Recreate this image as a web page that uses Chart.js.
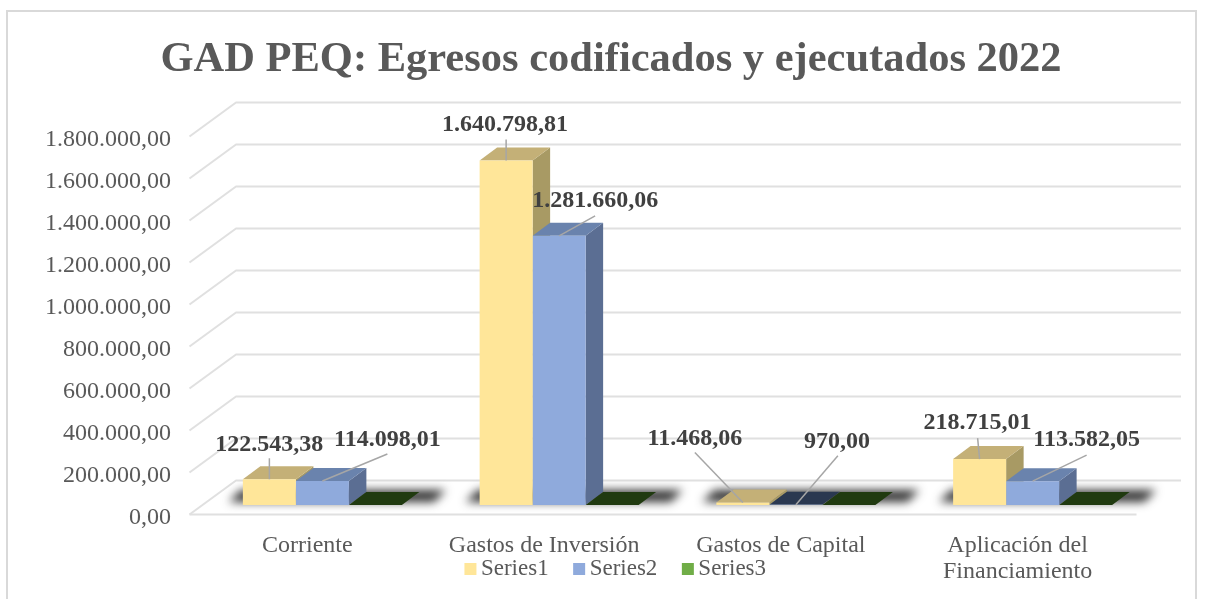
<!DOCTYPE html>
<html><head><meta charset="utf-8">
<style>html,body{margin:0;padding:0;background:#fff}canvas{display:block}</style>
<script src="https://cdn.jsdelivr.net/npm/chart.js@4"></script>
</head><body><canvas id="c" width="1209" height="599"></canvas>
<script>
const categories = ['Corriente','Gastos de Inversión','Gastos de Capital',['Aplicación del','Financiamiento']];
const series1 = [122543.38,1640798.81,11468.06,218715.01];
const series2 = [114098.01,1281660.06,970.00,113582.05];
const series3 = [0,0,0,0];
const seriesNames = ['Series1','Series2','Series3'];
const titleText = 'GAD PEQ: Egresos codificados y ejecutados 2022';
const SERIF = '"Liberation Serif","Times New Roman",serif';

const frontColors = ['#FFE699','#8FAADC','#70AD47'];
const topColors = ['#C4B077','#6A83AD','#203A10'];
const sideColors = ['#A89A64','#5B6E93','#203A10'];
const flatTopColors = ['#C4B077','#2A3850','#203A10'];
// label anchor and leader end, relative to the top centre of each bar
const labelPlacement = [
 [[0,-34,0,-21],[-1,-36,0,-21],[-48,-64,-48,-50],[-2,-36,-2,-21]],
 [[65,-41,65,-27],[36,-35,36,-20],[41,-63,42,-49],[54,-41,54,-26]]
];
const fmt = v => { const [a,b] = v.toFixed(2).split('.'); return a.replace(/\B(?=(\d{3})+$)/g,'.') + ',' + b; };
const DEPTH = {dx:17.5, dy:-13};
const FRONT = {dx:-14.5, dy:9.5};
const WALL = {dx:46.5, dy:-34};

function poly(ctx, pts, fill){ ctx.beginPath(); pts.forEach((p,i)=> i?ctx.lineTo(p[0],p[1]):ctx.moveTo(p[0],p[1])); ctx.closePath(); ctx.fillStyle=fill; ctx.fill(); }

const scene = {
 id:'scene',
 afterLayout(chart){
  chart.titleBlock.left = 13; chart.titleBlock.right = 1209;
  const lg = chart.legend;
  lg.left = 21.5; lg.right = 1209; lg.top = 533;
  lg.adjustHitBoxes();
  chart.scales.x.bottom = 599;
 },
 beforeDraw(chart){
  const {ctx,height} = chart;
  ctx.save(); ctx.fillStyle='#fff'; ctx.fillRect(0,0,chart.width,height);
  ctx.strokeStyle='#D9D9D9'; ctx.lineWidth=2; ctx.strokeRect(7,11,1189,height+5); ctx.restore();
 },
 beforeDatasetsDraw(chart){
  const {ctx,chartArea:a,scales:{y}} = chart;
  ctx.save();
  ctx.strokeStyle='#E0E0E0'; ctx.lineWidth=2; ctx.lineJoin='round';
  y.ticks.forEach(t=>{
   const gy = y.getPixelForValue(t.value)+FRONT.dy;
   const x0 = a.left+FRONT.dx;
   ctx.beginPath(); ctx.moveTo(x0,gy); ctx.lineTo(x0+WALL.dx,gy+WALL.dy); ctx.lineTo(a.right+FRONT.dx+WALL.dx-2,gy+WALL.dy); ctx.stroke();
   if(t.value===0){ ctx.beginPath(); ctx.moveTo(x0,gy); ctx.lineTo(a.right+FRONT.dx,gy); ctx.stroke(); }
  });
  // soft shadow of each cluster on the floor
  const m0 = chart.getDatasetMeta(0).data, m2 = chart.getDatasetMeta(2).data;
  const base = y.getPixelForValue(0);
  ctx.filter='blur(5px)';
  m0.forEach((b,i)=>{
   const L = b.x-b.width/2-14, R = m2[i].x+m2[i].width/2+32;
   poly(ctx,[[L,base-3],[R,base-3],[R+12,base-15],[L+12,base-15]],'rgba(30,30,30,0.9)');
  });
  ctx.filter='none';
  [0,1,2].forEach(ds=>{
   chart.getDatasetMeta(ds).data.forEach((b,i)=>{
    const L=b.x-b.width/2, R=b.x+b.width/2, T=b.y, B=b.base;
    const val = chart.data.datasets[ds].data[i];
    const top = (val>0 && val<1000) ? flatTopColors[ds] : topColors[ds];
    if(B-T>1) poly(ctx,[[R,B],[R,T],[R+DEPTH.dx,T+DEPTH.dy],[R+DEPTH.dx,B+DEPTH.dy]],sideColors[ds]);
    poly(ctx,[[L,T],[R,T],[R+DEPTH.dx,T+DEPTH.dy],[L+DEPTH.dx,T+DEPTH.dy]],top);
   });
  });
  ctx.restore();
 },
 afterDatasetsDraw(chart){
  const {ctx} = chart;
  ctx.save();
  ctx.textAlign='center'; ctx.textBaseline='middle';
  [0,1].forEach(ds=>{
   chart.getDatasetMeta(ds).data.forEach((b,i)=>{
    const [lx,ly,ex,ey] = labelPlacement[ds][i];
    ctx.strokeStyle='#A6A6A6'; ctx.lineWidth=1.5;
    ctx.beginPath(); ctx.moveTo(b.x,b.y); ctx.lineTo(b.x+ex,b.y+ey); ctx.stroke();
    ctx.fillStyle='#404040'; ctx.font='bold 24px '+SERIF;
    ctx.fillText(fmt(chart.data.datasets[ds].data[i]),b.x+lx,b.y+ly);
   });
  });
  ctx.restore();
 },
 afterDraw(chart){
  // legend swatches sit closer to their text than the built-in box allows
  const {ctx} = chart;
  ctx.save();
  chart.legend.legendHitBoxes.forEach((h,i)=>{ ctx.fillStyle=frontColors[i]; ctx.fillRect(h.left,563,12,12); });
  ctx.restore();
 }
};

new Chart(document.getElementById('c'),{
 type:'bar',
 data:{labels:categories,datasets:[series1,series2,series3].map((d,i)=>({
  label:seriesNames[i],data:d,backgroundColor:frontColors[i],borderWidth:0,
  categoryPercentage:0.6716,barPercentage:1}))},
 plugins:[scene],
 options:{
  responsive:false,animation:false,
  layout:{padding:{left:0,right:58,top:35,bottom:0}},
  plugins:{
   tooltip:{enabled:false},
   title:{display:true,text:titleText,color:'#595959',font:{family:SERIF,size:42.5,weight:'bold',lineHeight:1.2},padding:{top:0,bottom:41}},
   legend:{display:true,position:'bottom',onClick:null,
    labels:{boxWidth:5,boxHeight:12,padding:24.5,color:'#595959',font:{family:SERIF,size:23,lineHeight:1.15},
     generateLabels(chart){ return seriesNames.map((t,i)=>({text:t,datasetIndex:i,fillStyle:'rgba(0,0,0,0)',strokeStyle:'rgba(0,0,0,0)',lineWidth:0,fontColor:'#595959'})); }}}
  },
  scales:{
   x:{grid:{display:false},border:{display:false},
    afterFit(s){ s.height = 94 - (s.chart.legend?s.chart.legend.height:24); },
    ticks:{color:'#595959',font:{family:SERIF,size:24,lineHeight:1.11},padding:19,labelOffset:-15,maxRotation:0,minRotation:0,autoSkip:false}},
   y:{min:0,max:1800000,grid:{display:false},border:{display:false},
    afterFit(s){ s.width = 204; },
    ticks:{stepSize:200000,color:'#595959',font:{family:SERIF,size:24},padding:25,labelOffset:13,callback:v=>fmt(v)}}
  }
 }
});
</script></body></html>
